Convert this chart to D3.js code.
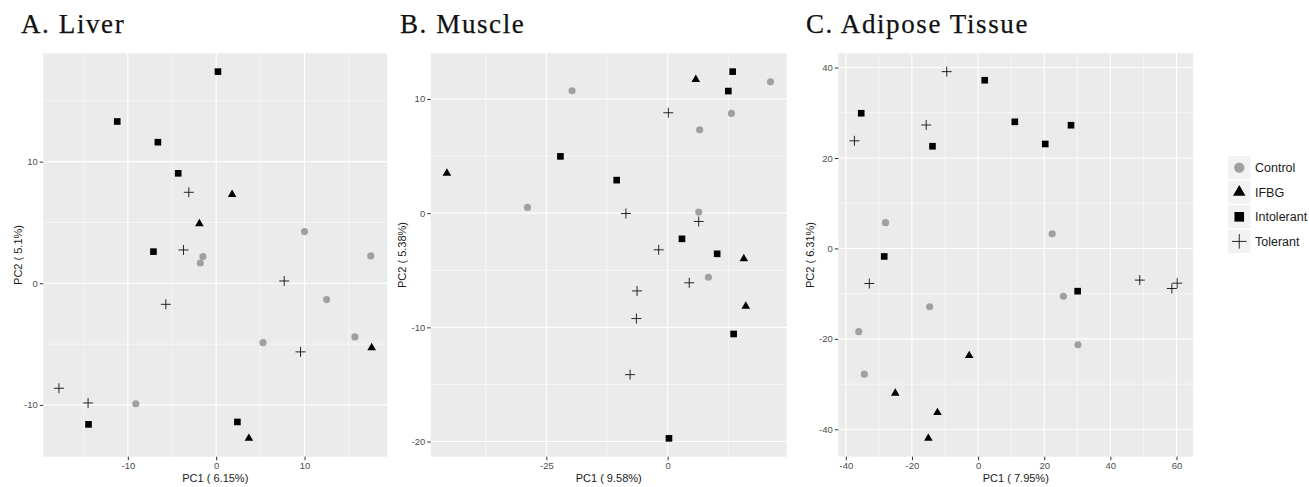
<!DOCTYPE html>
<html>
<head>
<meta charset="utf-8">
<script src="https://cdn.jsdelivr.net/npm/d3@7"></script>
<style>
  body { margin: 0; background: #fff; }
  svg { display: block; }
  .title { font-family: "Liberation Serif", "DejaVu Serif", serif; font-size: 27px; letter-spacing: 1.6px; fill: #111; stroke: #111; stroke-width: 0.25px; }
  .tick text { font-family: "Liberation Sans", Arial, sans-serif; font-size: 9.5px; fill: #4d4d4d; }
  .axis-title { font-family: "Liberation Sans", Arial, sans-serif; font-size: 11px; fill: #1a1a1a; }
  .legend text { font-family: "Liberation Sans", Arial, sans-serif; font-size: 12.5px; fill: #1a1a1a; }
</style>
</head>
<body>
<div id="chart"></div>
<script>
// groups
const groups = ["Control", "IFBG", "Intolerant", "Tolerant"];

// A. Liver  [PC1, PC2]
const liverControl = [[10.0, 4.25], [-1.5, 2.2], [-1.8, 1.67], [17.5, 2.25], [12.5, -1.34], [5.3, -4.88], [15.7, -4.41], [-9.1, -9.9]];
const liverIFBG = [[1.8, 7.3], [-1.9, 4.9], [17.6, -5.3], [3.7, -12.75]];
const liverIntolerant = [[0.2, 17.4], [-11.2, 13.3], [-6.6, 11.6], [-4.3, 9.04], [-7.1, 2.6], [-14.45, -11.6], [2.4, -11.4]];
const liverTolerant = [[-3.1, 7.48], [-3.7, 2.74], [-5.7, -1.73], [7.7, 0.19], [9.55, -5.64], [-17.8, -8.63], [-14.5, -9.84]];

// B. Muscle
const muscleControl = [[21.2, 11.5], [-19.7, 10.72], [13.15, 8.73], [6.6, 7.3], [-28.9, 0.5], [6.4, 0.09], [8.4, -5.61]];
const muscleIFBG = [[5.8, 11.7], [-45.5, 3.5], [15.7, -4.0], [16.1, -8.15]];
const muscleIntolerant = [[13.4, 12.39], [12.5, 10.69], [-22.1, 4.97], [-10.5, 2.89], [2.95, -2.25], [10.2, -3.56], [13.6, -10.58], [0.27, -19.72]];
const muscleTolerant = [[0.14, 8.79], [-8.6, -0.03], [6.4, -0.73], [-1.85, -3.21], [4.45, -6.1], [-6.3, -6.81], [-6.44, -9.23], [-7.74, -14.14]];

// C. Adipose Tissue
const adiposeControl = [[-28.0, 5.7], [22.4, 3.25], [-14.65, -12.9], [25.8, -10.56], [-36.1, -18.4], [30.2, -21.3], [-34.4, -27.8]];
const adiposeIFBG = [[-2.7, -23.7], [-25.05, -32.0], [-12.3, -36.3], [-15.05, -42.0]];
const adiposeIntolerant = [[2.0, 37.2], [-35.35, 29.9], [11.1, 28.0], [28.1, 27.25], [-13.8, 22.6], [20.3, 23.1], [-28.4, -1.77], [30.1, -9.45]];
const adiposeTolerant = [[-9.5, 39.1], [-15.7, 27.3], [-37.4, 23.8], [-32.9, -7.75], [48.9, -7.0], [58.6, -8.86], [60.2, -7.68]];

// titles and tick labels
const panelTitles = ["A. Liver", "B. Muscle", "C. Adipose Tissue"];
const xTitles = ["PC1 ( 6.15%)", "PC1 ( 9.58%)", "PC1 ( 7.95%)"];
const yTitles = ["PC2 ( 5.1%)", "PC2 ( 5.38%)", "PC2 ( 6.31%)"];
const liverXTicks = [-20, -10, 0, 10, 20];
const liverYTicks = [-20, -10, 0, 10, 20];
const muscleXTicks = [-50, -25, 0, 25];
const muscleYTicks = [-20, -10, 0, 10, 20];
const adiposeXTicks = [-40, -20, 0, 20, 40, 60];
const adiposeYTicks = [-40, -20, 0, 20, 40];

const panels = [
  { title: panelTitles[0], xt: xTitles[0], yt: yTitles[0], xTicks: liverXTicks, yTicks: liverYTicks,
    series: [liverControl, liverIFBG, liverIntolerant, liverTolerant],
    box: { x0: 43.3, x1: 387.3, y0: 53.3, y1: 456.7 }, titleX: 21, yTitleX: 17.5 },
  { title: panelTitles[1], xt: xTitles[1], yt: yTitles[1], xTicks: muscleXTicks, yTicks: muscleYTicks,
    series: [muscleControl, muscleIFBG, muscleIntolerant, muscleTolerant],
    box: { x0: 430.7, x1: 786.7, y0: 53.3, y1: 456.7 }, titleX: 400, yTitleX: 402 },
  { title: panelTitles[2], xt: xTitles[2], yt: yTitles[2], xTicks: adiposeXTicks, yTicks: adiposeYTicks,
    series: [adiposeControl, adiposeIFBG, adiposeIntolerant, adiposeTolerant],
    box: { x0: 838.3, x1: 1193.3, y0: 53.3, y1: 456.7 }, titleX: 806, yTitleX: 810 }
];

const W = 1309, H = 487;
const svg = d3.select("#chart").append("svg").attr("width", W).attr("height", H);

const plusPath = r => `M${-r},0H${r}M0,${-r}V${r}`;
const shapes = {
  Control: (g, s) => g.append("path").attr("d", d3.symbol(d3.symbolCircle, 40 * s * s)()).attr("fill", "#a0a0a0"),
  IFBG: (g, s) => g.append("path").attr("d", d3.symbol(d3.symbolTriangle, 32 * s * s)()).attr("fill", "#000"),
  Intolerant: (g, s) => g.append("path").attr("d", d3.symbol(d3.symbolSquare, 44 * s * s)()).attr("fill", "#000"),
  Tolerant: (g, s) => g.append("path").attr("d", plusPath(5 * s)).attr("fill", "none").attr("stroke", "#111").attr("stroke-width", 0.9)
};

// ggplot-style 5% padding
function expand(ext) {
  const pad = (ext[1] - ext[0]) * 0.05;
  return [ext[0] - pad, ext[1] + pad];
}

function minors(ticks, dom) {
  const out = [];
  for (let i = 0; i < ticks.length - 1; i++) out.push((ticks[i] + ticks[i + 1]) / 2);
  return out.filter(v => v >= dom[0] && v <= dom[1]);
}

panels.forEach(p => {
  const all = p.series.flat();
  const x = d3.scaleLinear().domain(expand(d3.extent(all, d => d[0]))).range([p.box.x0, p.box.x1]);
  const y = d3.scaleLinear().domain(expand(d3.extent(all, d => d[1]))).range([p.box.y1, p.box.y0]);
  const xMaj = p.xTicks.filter(v => v >= x.domain()[0] && v <= x.domain()[1]);
  const yMaj = p.yTicks.filter(v => v >= y.domain()[0] && v <= y.domain()[1]);

  svg.append("text").attr("class", "title").attr("x", p.titleX).attr("y", 33).text(p.title);

  const g = svg.append("g");
  g.append("rect").attr("x", p.box.x0).attr("y", p.box.y0)
    .attr("width", p.box.x1 - p.box.x0).attr("height", p.box.y1 - p.box.y0).attr("fill", "#ebebeb");

  g.selectAll(".vmin").data(minors(p.xTicks, x.domain())).enter().append("line")
    .attr("x1", d => x(d)).attr("x2", d => x(d)).attr("y1", p.box.y0).attr("y2", p.box.y1)
    .attr("stroke", "#fff").attr("stroke-width", 0.55);
  g.selectAll(".hmin").data(minors(p.yTicks, y.domain())).enter().append("line")
    .attr("y1", d => y(d)).attr("y2", d => y(d)).attr("x1", p.box.x0).attr("x2", p.box.x1)
    .attr("stroke", "#fff").attr("stroke-width", 0.55);
  g.selectAll(".vmaj").data(xMaj).enter().append("line")
    .attr("x1", d => x(d)).attr("x2", d => x(d)).attr("y1", p.box.y0).attr("y2", p.box.y1)
    .attr("stroke", "#fff").attr("stroke-width", 1.1);
  g.selectAll(".hmaj").data(yMaj).enter().append("line")
    .attr("y1", d => y(d)).attr("y2", d => y(d)).attr("x1", p.box.x0).attr("x2", p.box.x1)
    .attr("stroke", "#fff").attr("stroke-width", 1.1);

  const xAxis = svg.append("g").attr("transform", `translate(0,${p.box.y1})`)
    .call(d3.axisBottom(x).tickValues(xMaj).tickSize(3.5).tickPadding(2).tickFormat(d3.format("d")));
  const yAxis = svg.append("g").attr("transform", `translate(${p.box.x0},0)`)
    .call(d3.axisLeft(y).tickValues(yMaj).tickSize(3.5).tickPadding(2).tickFormat(d3.format("d")));
  [xAxis, yAxis].forEach(a => {
    a.select(".domain").remove();
    a.selectAll(".tick line").attr("stroke", "#333");
  });
  xAxis.selectAll(".tick text").attr("dy", "0.71em").text(d => d < 0 ? "-" + Math.abs(d) : d);
  yAxis.selectAll(".tick text").text(d => d < 0 ? "-" + Math.abs(d) : d);

  svg.append("text").attr("class", "axis-title").attr("text-anchor", "middle")
    .attr("x", (p.box.x0 + p.box.x1) / 2).attr("y", 482).text(p.xt);
  svg.append("text").attr("class", "axis-title").attr("text-anchor", "middle")
    .attr("transform", `translate(${p.yTitleX + 4},${(p.box.y0 + p.box.y1) / 2}) rotate(-90)`).text(p.yt);

  p.series.forEach((pts, i) => {
    const grp = groups[i];
    pts.forEach(d => {
      const m = g.append("g").attr("transform", `translate(${x(d[0])},${y(d[1])})`);
      shapes[grp](m, 1);
    });
  });
});

// legend
const legend = svg.append("g").attr("class", "legend").attr("transform", "translate(1228,156)");
groups.forEach((grp, i) => {
  const row = legend.append("g").attr("transform", `translate(0,${i * 24.6})`);
  row.append("rect").attr("width", 22.5).attr("height", 23.2).attr("fill", "#f2f2f2");
  const m = row.append("g").attr("transform", "translate(11.25,11.6)");
  shapes[grp](m, 1.45);
  row.append("text").attr("x", 27).attr("y", 11.6).attr("dy", "0.35em").text(grp);
});
</script>
</body>
</html>
